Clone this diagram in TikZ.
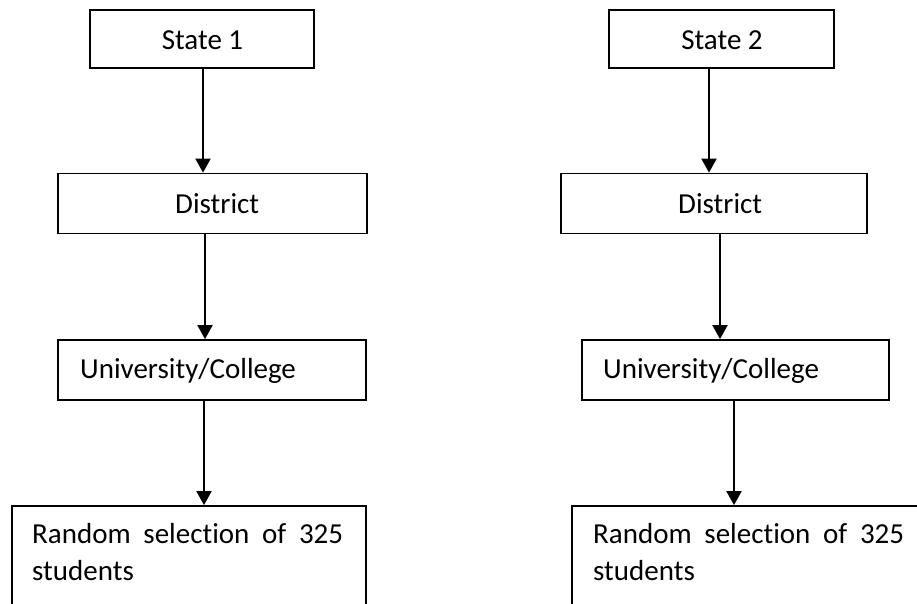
\documentclass[tikz,border=0pt]{standalone}
\usepackage{fontspec}
\setmainfont[Ligatures=NoCommon]{Carlito}
\usetikzlibrary{arrows.meta}
\begin{document}
\begin{tikzpicture}[x=1pt,y=-1pt,
  box/.style={draw, line width=1.8pt, rectangle, inner sep=0pt},
  lbl/.style={font=\fontsize{29}{37}\selectfont, inner sep=0pt, anchor=base west},
  arr/.style={-{Triangle[length=14pt,width=15pt]}, line width=2pt}]
\clip (0,0) rectangle (917,603);
\fill[white] (0,0) rectangle (917,603);
% left column boxes
\node[box, minimum width=224pt, minimum height=58pt] (s1) at (202,39) {};
\node[box, minimum width=309pt, minimum height=60pt] (d1) at (212.5,203.5) {};
\node[box, minimum width=308pt, minimum height=60pt] (u1) at (212,370) {};
\node[box, minimum width=354pt, minimum height=154pt] (r1) at (189,583) {};
% right column boxes
\node[box, minimum width=225pt, minimum height=58pt] (s2) at (721.5,39) {};
\node[box, minimum width=306pt, minimum height=60pt] (d2) at (714,203.5) {};
\node[box, minimum width=307pt, minimum height=60pt] (u2) at (735.5,370) {};
\node[box, minimum width=368pt, minimum height=154pt] (r2) at (756,583) {};
% texts
\node[lbl, anchor=base] (ts1) at (202.5,49) {State 1};
\node[lbl, anchor=base] (ts2) at (722,49) {State 2};
\node[lbl] (td1) at (175,213) {District};
\node[lbl] (td2) at (678,213) {District};
\node[lbl] (tu1) at (80,378) {University/College};
\node[lbl] (tu2) at (603,378) {University/College};
\node[lbl] (tr1a) at (32,543) {\makebox[311pt][s]{Random\hfill selection\hfill of\hfill 325}};
\node[lbl] (tr1b) at (32,580) {students};
\node[lbl] (tr2a) at (593,543) {\makebox[311pt][s]{Random\hfill selection\hfill of\hfill 325}};
\node[lbl] (tr2b) at (593,580) {students};
% arrow columns
\coordinate (a1) at (203,0);
\coordinate (a2) at (205,0);
\coordinate (a3) at (204,0);
\coordinate (b1) at (709,0);
\coordinate (b2) at (720,0);
\coordinate (b3) at (734,0);
\draw[arr] (s1.south -| a1) -- (d1.north -| a1);
\draw[arr] (d1.south -| a2) -- (u1.north -| a2);
\draw[arr] (u1.south -| a3) -- (r1.north -| a3);
\draw[arr] (s2.south -| b1) -- (d2.north -| b1);
\draw[arr] (d2.south -| b2) -- (u2.north -| b2);
\draw[arr] (u2.south -| b3) -- (r2.north -| b3);
\end{tikzpicture}
\end{document}
